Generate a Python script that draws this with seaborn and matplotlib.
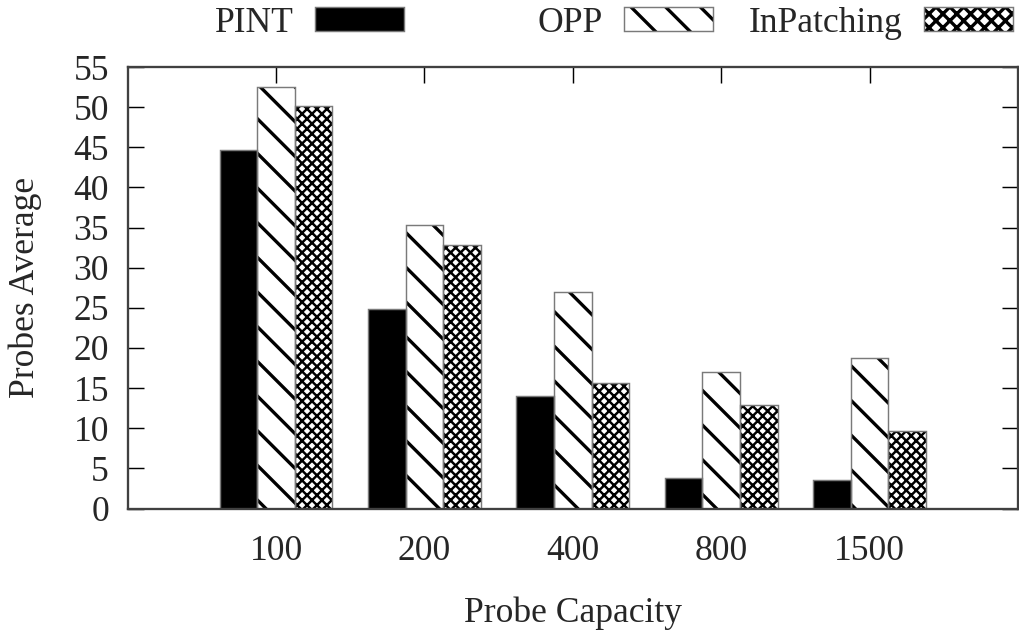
import matplotlib
matplotlib.use("Agg")
import matplotlib.pyplot as plt
from matplotlib.patches import Rectangle
import seaborn as sns
import pandas as pd

capacities = ["100", "200", "400", "800", "1500"]
methods = ["PINT", "OPP", "InPatching"]
pint = [44.7, 24.9, 14.0, 3.8, 3.5]
opp = [52.5, 35.3, 27.0, 17.0, 18.7]
inpatching = [50.1, 32.8, 15.6, 12.9, 9.6]
yticks = list(range(0, 56, 5))

rows = []
for name, vals in zip(methods, [pint, opp, inpatching]):
    for c, v in zip(capacities, vals):
        rows.append({"capacity": c, "value": v, "method": name})
df = pd.DataFrame(rows)

DPI = 208
FS = 12.3
sns.set_style("ticks")
plt.rcParams["font.family"] = ["Liberation Serif", "DejaVu Serif"]
plt.rcParams["hatch.linewidth"] = 1.15
plt.rcParams["font.size"] = FS

fig = plt.figure(figsize=(1019 / DPI, 632 / DPI), dpi=DPI)
ax = fig.add_axes([127.7 / 1019, 1 - 508.5 / 632, (1018 - 127.7) / 1019, (508.5 - 67) / 632])

facec = {"PINT": "black", "OPP": "white", "InPatching": "white"}
hatches = {"PINT": None, "OPP": "\\\\", "InPatching": "x" * 7}
legend_hatches = {"PINT": None, "OPP": "\\\\", "InPatching": "x" * 5}
hatch_lw = {"PINT": 1.15, "OPP": 1.15, "InPatching": 0.85}

sns.barplot(data=df, x="capacity", y="value", hue="method", order=capacities,
            hue_order=methods, palette=facec, width=0.76, gap=0, errorbar=None,
            edgecolor="black", linewidth=0, legend=False, ax=ax, zorder=2)

for cont, name in zip(ax.containers, methods):
    for bar in cont:
        bar.set_facecolor(facec[name])
        bar.set_edgecolor("black")
        bar.set_linewidth(0)
        if hatches[name]:
            bar.set_hatch(hatches[name])
            if hasattr(bar, "set_hatch_linewidth"):
                bar.set_hatch_linewidth(hatch_lw[name])
        ax.add_patch(Rectangle((bar.get_x(), bar.get_y()), bar.get_width(), bar.get_height(),
                               fill=False, edgecolor="#7a7a7a", linewidth=0.5, zorder=2.1))

ax.set_xlim(-1, 5)
ax.set_ylim(0, 55)
ax.set_yticks(yticks)
ax.set_yticklabels([str(t) for t in yticks])
ax.set_xlabel("Probe Capacity", fontsize=FS, labelpad=10)
ax.set_ylabel("Probes Average", fontsize=FS, labelpad=11)

for s in ax.spines.values():
    s.set_visible(True)
    s.set_color("#404040")
    s.set_linewidth(0.8)
ax.tick_params(axis="y", direction="in", left=True, right=True, length=5.5, width=0.5,
               color="black", labelsize=FS, pad=6.5)
ax.tick_params(axis="x", direction="in", bottom=False, top=True, length=5.5, width=0.5,
               color="black", labelsize=FS, pad=9)

legend_right = [404, 712.6, 1012.7]
for name, xr in zip(methods, legend_right):
    h = Rectangle((0, 0), 1, 1, facecolor=facec[name], edgecolor="black", linewidth=0,
                  hatch=legend_hatches[name])
    if hasattr(h, "set_hatch_linewidth"):
        h.set_hatch_linewidth(hatch_lw[name])
    leg = fig.legend(handles=[h], labels=[name], loc="center right",
                     bbox_to_anchor=(xr / 1019, 1 - 23 / 632), frameon=False,
                     markerfirst=False, handlelength=2.5, handleheight=0.63,
                     handletextpad=0.6, borderpad=0, borderaxespad=0, fontsize=FS)
    for p in leg.get_patches():
        p.set_edgecolor("#7a7a7a")
        p.set_linewidth(0.5)
        if hasattr(p, "set_hatchcolor"):
            p.set_hatchcolor("black")
        else:
            p._hatch_color = (0.0, 0.0, 0.0, 1.0)

fig.savefig("out.png", dpi=DPI)
